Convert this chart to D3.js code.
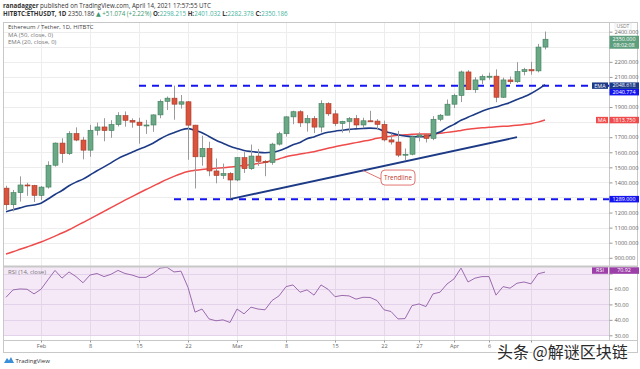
<!DOCTYPE html>
<html>
<head>
<meta charset="utf-8">
<script src="https://cdn.jsdelivr.net/npm/d3@7"></script>
<style>
  body { margin: 0; background: #fff; }
  svg { display: block; }
  text { font-family: "Open Sans", "DejaVu Sans", sans-serif; }
</style>
</head>
<body>
<div id="chart"></div>
<script>
// daily candles, first one is 2021-01-27
const startDate = "2021-01-27";
const opens  = [1362,1252,1332,1383,1380,1314,1369,1514,1661,1591,1724,1681,1614,1746,1768,1744,1784,1843,1812,1800,
                1779,1781,1848,1938,1959,1919,1935,1780,1570,1626,1476,1446,1459,1416,1564,1491,1575,1540,1533,1654,
                1723,1835,1869,1795,1824,1767,1923,1855,1791,1805,1823,1781,1809,1807,1785,1682,1668,1581,1587,1703,
                1715,1692,1819,1846,1919,1977,2133,2015,2080,2098,2105,1965,2080,2068,2135,2148,2140,2298];
const highs  = [1378,1350,1440,1397,1384,1375,1540,1665,1693,1740,1765,1702,1782,1797,1826,1813,1866,1871,1825,1829,
                1815,1851,1950,1970,2042,1980,1940,1782,1710,1670,1559,1525,1468,1568,1601,1651,1622,1548,1663,1736,
                1839,1876,1879,1847,1840,1945,1932,1880,1809,1834,1847,1829,1875,1820,1810,1725,1742,1625,1710,1733,
                1724,1840,1854,1950,1989,2142,2145,2098,2116,2128,2150,2095,2103,2198,2160,2200,2319,2401];
const lows   = [1217,1208,1273,1311,1270,1283,1359,1505,1530,1582,1673,1553,1570,1712,1673,1696,1771,1770,1763,1657,
                1722,1736,1826,1880,1816,1890,1550,1360,1511,1441,1394,1423,1293,1408,1463,1483,1510,1441,1517,1645,
                1704,1786,1768,1737,1727,1732,1841,1774,1730,1730,1760,1760,1802,1750,1672,1651,1568,1548,1580,1672,
                1665,1680,1806,1846,1894,1933,2017,1994,2052,2082,1932,1960,2053,2060,2111,2115,2130,2282];
const closes = [1252,1332,1383,1380,1314,1369,1514,1661,1591,1724,1681,1614,1746,1768,1744,1784,1843,1812,1800,1779,
                1781,1848,1938,1959,1919,1935,1780,1570,1626,1476,1446,1459,1416,1564,1491,1575,1540,1533,1654,1723,
                1835,1869,1795,1824,1767,1923,1855,1791,1805,1823,1781,1809,1807,1785,1682,1668,1581,1587,1703,1715,
                1692,1819,1846,1919,1977,2133,2015,2080,2103,2105,1965,2080,2068,2135,2148,2140,2298,2350];

// indicator values
const ema20 = [1206,1218,1231,1243,1250,1262,1290,1320,1346,1378,1402,1422,1449,1477,1503,1530,1558,1580,1600,1620,
               1638,1660,1688,1712,1730,1748,1757,1745,1730,1705,1680,1660,1640,1625,1612,1605,1600,1597,1600,1610,
               1628,1650,1665,1690,1702,1720,1733,1740,1746,1752,1755,1758,1760,1758,1740,1728,1716,1708,1704,1703,
               1704,1718,1734,1762,1785,1812,1832,1853,1872,1889,1900,1915,1930,1950,1968,1990,2017,2048.618];
const ma50  = [925,940,956,972,988,1005,1024,1044,1064,1086,1110,1134,1158,1183,1208,1233,1258,1282,1306,1330,
               1353,1375,1398,1420,1440,1458,1472,1480,1486,1490,1494,1497,1502,1508,1512,1518,1525,1533,1545,1556,
               1570,1580,1588,1596,1604,1615,1626,1637,1646,1655,1664,1673,1682,1693,1700,1707,1713,1716,1719,1721,
               1721,1722,1727,1732,1738,1745,1752,1758,1762,1766,1769,1772,1775,1779,1784,1790,1800,1813.75];
const rsi   = [54.6,59.4,60,59.8,56.8,59.8,66,72,67,71,68,64,69,70,68,69.5,72,70,69,67.5,
               67.5,70,73.5,74,71,71.5,61,45,47,40.6,39.4,40,38.3,47,43.9,48.2,47,46.5,52.5,55.5,
               61.5,62.6,57.9,59.4,56,62.6,59.8,55,55.8,55.5,53.4,54.6,54.5,52.5,46.5,45.4,40.6,40.8,49.2,50.3,
               48.6,56.8,57.9,63.2,66.5,73.5,64.5,67,68,68,56,61.5,60.5,63.7,64.5,63.3,69.8,70.92];

// drawn levels and trendline
const levelValues = [2040.774, 1289];
const levelStarts = ["2021-02-15", "2021-02-20"];
const trendDates  = ["2021-02-28", "2021-04-10"];
const trendValues = [1289, 1700];

// axis ticks
const priceTicks = d3.range(900, 2401, 100);
const rsiTicks   = [30, 40, 50, 60, 70];
const dateTicks  = ["2021-02-01","2021-02-08","2021-02-15","2021-02-22","2021-03-01","2021-03-08",
                    "2021-03-15","2021-03-22","2021-03-27","2021-04-01","2021-04-06","2021-04-12"];
const dateLabels = ["Feb","8","15","22","Mar","8","15","22","27","Apr","6",""];

const width = 640, height = 369;
const left = 3, axisX = 609, right = 637;
const mainTop = 22, mainBottom = 266, rsiBottom = 340, frameBottom = 352;

const parse = d3.utcParse("%Y-%m-%d");
const t0 = parse(startDate);
const dates = opens.map((d, i) => d3.utcDay.offset(t0, i));

const x = d3.scaleUtc()
  .domain([parse("2021-02-01"), parse("2021-04-01")])
  .range([41, 454]);
const y = d3.scaleLinear().domain([1000, 2400]).range([242.7, 31.7]);
const yR = d3.scaleLinear().domain([30, 70]).range([335.3, 273.5]);

const svg = d3.select("#chart").append("svg")
  .attr("width", width)
  .attr("height", height);

const defs = svg.append("defs");
defs.append("clipPath").attr("id", "clipMain")
  .append("rect").attr("x", left).attr("y", mainTop).attr("width", axisX - left).attr("height", mainBottom - mainTop);
defs.append("clipPath").attr("id", "clipRsi")
  .append("rect").attr("x", left).attr("y", mainBottom).attr("width", axisX - left).attr("height", rsiBottom - mainBottom);

// header
const head = svg.append("g").style("font-size", "6.2px");
const h1 = head.append("text").attr("x", 3).attr("y", 8).attr("fill", "#333");
h1.append("tspan").attr("font-weight", "bold").text("ranadagger");
h1.append("tspan").text(" published on TradingView.com, April 14, 2021 17:57:55 UTC");
const h2 = head.append("text").attr("x", 3).attr("y", 16).attr("fill", "#333");
h2.append("tspan").attr("font-weight", "bold").text("HITBTC:ETHUSDT, 1D");
h2.append("tspan").text(" 2350.186 ");
h2.append("tspan").attr("fill", "#3d9970").text("\u25B2 +51.074 (+2.22%) ");
[["O:", "2298.215"], ["H:", "2401.032"], ["L:", "2282.378"], ["C:", "2350.186"]].forEach(([k, v]) => {
  h2.append("tspan").attr("font-weight", "bold").text(k);
  h2.append("tspan").attr("fill", "#45b39d").text(v + " ");
});

// grid
const grid = svg.append("g").attr("stroke", "#ededed").attr("stroke-width", 1);
grid.selectAll(".vg").data(dateTicks).join("line")
  .attr("x1", d => Math.round(x(parse(d))) + 0.5).attr("x2", d => Math.round(x(parse(d))) + 0.5)
  .attr("y1", mainTop).attr("y2", rsiBottom);
grid.selectAll(".hg").data(priceTicks).join("line")
  .attr("x1", left).attr("x2", axisX)
  .attr("y1", d => Math.round(y(d)) + 0.5).attr("y2", d => Math.round(y(d)) + 0.5)
  .filter(d => y(d) < mainTop || y(d) > mainBottom).remove();

// rsi band
svg.append("rect")
  .attr("x", left).attr("width", axisX - left)
  .attr("y", mainBottom + 1).attr("height", yR(30) - mainBottom - 1)
  .attr("fill", "#9c27b0").attr("fill-opacity", 0.1);
svg.append("g").attr("stroke", "#e3d3ea")
  .selectAll("line").data(rsiTicks).join("line")
  .attr("x1", left).attr("x2", axisX)
  .attr("y1", d => Math.round(yR(d)) + 0.5).attr("y2", d => Math.round(yR(d)) + 0.5);

// main panel content
const main = svg.append("g").attr("clip-path", "url(#clipMain)");

// dashed levels
main.selectAll(".lvl").data(levelValues).join("line")
  .attr("x1", (d, i) => x(parse(levelStarts[i]))).attr("x2", axisX)
  .attr("y1", d => y(d)).attr("y2", d => y(d))
  .attr("stroke", "#1414f0").attr("stroke-width", 2).attr("stroke-dasharray", "7,6");

// moving averages
const line = d3.line().x((d, i) => x(dates[i])).y(d => y(d)).curve(d3.curveMonotoneX);
main.append("path").attr("d", line(ma50)).attr("fill", "none").attr("stroke", "#ef4b4b").attr("stroke-width", 1.5);
main.append("path").attr("d", line(ema20)).attr("fill", "none").attr("stroke", "#1c3a85").attr("stroke-width", 1.6);

// trendline
main.append("line")
  .attr("x1", x(parse(trendDates[0]))).attr("y1", y(trendValues[0]))
  .attr("x2", x(parse(trendDates[1]))).attr("y2", y(trendValues[1]))
  .attr("stroke", "#1c3a85").attr("stroke-width", 1.8);

// candles
const candles = main.selectAll(".c").data(opens).join("g");
candles.append("line")
  .attr("x1", (d, i) => Math.round(x(dates[i])) + 0.5).attr("x2", (d, i) => Math.round(x(dates[i])) + 0.5)
  .attr("y1", (d, i) => y(highs[i])).attr("y2", (d, i) => y(lows[i]))
  .attr("stroke", "#9a9a9a").attr("stroke-width", 1);
candles.append("rect")
  .attr("x", (d, i) => Math.round(x(dates[i])) - 2)
  .attr("width", 5)
  .attr("y", (d, i) => y(Math.max(opens[i], closes[i])))
  .attr("height", (d, i) => Math.max(1, Math.abs(y(opens[i]) - y(closes[i]))))
  .attr("fill", (d, i) => closes[i] >= opens[i] ? "#6aa886" : "#d9533d")
  .attr("stroke", (d, i) => closes[i] >= opens[i] ? "#3f7d5c" : "#a63a29")
  .attr("stroke-width", 0.6);

// trendline callout
const tx = x(parse("2021-03-19")), ty = y(trendValues[0] + (trendValues[1] - trendValues[0]) * 19 / 41);
const bx = x(parse("2021-03-21")) + 4, by = y(1482);
main.append("line").attr("x1", tx).attr("y1", ty).attr("x2", bx).attr("y2", by + 9)
  .attr("stroke", "#d9534f").attr("stroke-width", 0.8);
main.append("rect").attr("x", bx).attr("y", by).attr("width", 34).attr("height", 15).attr("rx", 4)
  .attr("fill", "#fff").attr("stroke", "#d9534f").attr("stroke-width", 0.8);
main.append("text").attr("x", bx + 17).attr("y", by + 9.8).attr("text-anchor", "middle")
  .style("font-size", "6.3px").attr("fill", "#c0392b").text("Trendline");

// rsi line
const rsiLine = d3.line().x((d, i) => x(dates[i])).y(d => yR(d));
svg.append("g").attr("clip-path", "url(#clipRsi)")
  .append("path").attr("d", rsiLine(rsi)).attr("fill", "none").attr("stroke", "#9b6aae").attr("stroke-width", 1);

// legends
const leg = svg.append("g").style("font-size", "6px");
leg.append("text").attr("x", 8).attr("y", 29).attr("fill", "#444").text("Ethereum / Tether, 1D, HITBTC");
leg.append("text").attr("x", 8).attr("y", 36.5).attr("fill", "#777").text("MA (50, close, 0)");
leg.append("text").attr("x", 8).attr("y", 44).attr("fill", "#777").text("EMA (20, close, 0)");
leg.append("text").attr("x", 8).attr("y", 274).attr("fill", "#777").text("RSI (14, close)");

// frame and separators
svg.append("rect").attr("x", left + 0.5).attr("y", mainTop + 0.5)
  .attr("width", right - left).attr("height", frameBottom - mainTop)
  .attr("fill", "none").attr("stroke", "#c8c8c8");
svg.append("line").attr("x1", left).attr("x2", right).attr("y1", mainBottom + 0.5).attr("y2", mainBottom + 0.5)
  .attr("stroke", "#c8c8c8").attr("stroke-width", 2);
svg.append("line").attr("x1", left).attr("x2", right).attr("y1", rsiBottom + 0.5).attr("y2", rsiBottom + 0.5)
  .attr("stroke", "#c8c8c8");
svg.append("line").attr("x1", axisX + 0.5).attr("x2", axisX + 0.5).attr("y1", mainTop).attr("y2", rsiBottom)
  .attr("stroke", "#c8c8c8");

// right side badges, positions collected so covered tick labels can be dropped
const fmt3 = d3.format(".3f");
const badgeBoxes = [];
const badgeLayer = svg.append("g");
function badge(cy, lines, fill) {
  const h = 6.5 * lines.length;
  badgeBoxes.push([cy - h / 2, cy + h / 2]);
  badgeLayer.append("rect").attr("x", axisX + 0.5).attr("y", cy - h / 2).attr("width", 29.5).attr("height", h).attr("fill", fill);
  lines.forEach((t, k) => badgeLayer.append("text")
    .attr("x", axisX + 15).attr("y", cy - h / 2 + 4.9 + 6.5 * k).attr("text-anchor", "middle")
    .style("font-size", "5.4px").attr("fill", "#fff").text(t));
}
function tag(cy, label, fill) {
  const w = label.length * 4 + 4;
  badgeLayer.append("rect").attr("x", axisX - w - 1).attr("y", cy - 3.2).attr("width", w).attr("height", 6.4).attr("fill", fill);
  badgeLayer.append("text").attr("x", axisX - 1 - w / 2).attr("y", cy + 1.9).attr("text-anchor", "middle")
    .style("font-size", "5.4px").attr("fill", "#fff").text(label);
}
const lastClose = closes[closes.length - 1];
badge(y(lastClose) + 3, [fmt3(lastClose), "08:02:08"], "#5d9e7c");
const emaY = y(ema20[ema20.length - 1]) + 1;
tag(emaY, "EMA", "#1c3a85");
badge(emaY, [fmt3(ema20[ema20.length - 1])], "#1c3a85");
badge(Math.max(y(levelValues[0]), emaY + 6.5), [fmt3(levelValues[0])], "#1414f0");
const maY = y(ma50[ma50.length - 1]);
tag(maY, "MA", "#ef4b4b");
badge(maY, [fmt3(ma50[ma50.length - 1])], "#ef4b4b");
badge(y(levelValues[1]), [fmt3(levelValues[1])], "#1414f0");
const rsiY = yR(rsi[rsi.length - 1]) - 1.5;
tag(rsiY, "RSI", "#9c3fa8");
badge(rsiY, [d3.format(".2f")(rsi[rsi.length - 1])], "#9c3fa8");

const covered = py => badgeBoxes.some(([a, b]) => py + 3 > a && py - 3 < b);

// price axis
const pAxis = svg.insert("g", () => badgeLayer.node()).attr("transform", `translate(${axisX + 0.5},0)`)
  .call(d3.axisRight(y).tickValues(priceTicks).tickSize(3).tickPadding(2).tickFormat(fmt3));
pAxis.select(".domain").remove();
pAxis.selectAll("line").attr("stroke", "#999");
pAxis.selectAll("text").attr("fill", "#666").style("font-size", "5.6px").style("font-family", "'Open Sans', sans-serif");
pAxis.selectAll(".tick").filter(d => covered(y(d))).select("text").remove();

const rAxis = svg.insert("g", () => badgeLayer.node()).attr("transform", `translate(${axisX + 0.5},0)`)
  .call(d3.axisRight(yR).tickValues(rsiTicks).tickSize(3).tickPadding(2).tickFormat(d3.format(".2f")));
rAxis.select(".domain").remove();
rAxis.selectAll("line").attr("stroke", "#999");
rAxis.selectAll("text").attr("fill", "#666").style("font-size", "5.6px").style("font-family", "'Open Sans', sans-serif");
rAxis.selectAll(".tick").filter(d => covered(yR(d))).select("text").remove();

// date axis
const dAxis = svg.append("g").attr("transform", `translate(0,${rsiBottom + 0.5})`)
  .call(d3.axisBottom(x).tickValues(dateTicks.map(parse)).tickSize(2).tickPadding(2)
    .tickFormat((d, i) => dateLabels[i]));
dAxis.select(".domain").remove();
dAxis.selectAll("line").attr("stroke", "#999");
dAxis.selectAll("text").attr("fill", "#666").style("font-size", "5.6px").style("font-family", "'Open Sans', sans-serif");

// USDT label
svg.append("rect").attr("x", 615).attr("y", 23).attr("width", 16).attr("height", 7)
  .attr("fill", "#fff").attr("stroke", "#ddd").attr("stroke-width", 0.6);
svg.append("text").attr("x", 623).attr("y", 28.3).attr("text-anchor", "middle")
  .style("font-size", "5px").attr("fill", "#777").text("USDT");

// TradingView footer
const logo = svg.append("g").attr("transform", "translate(4,356)");
logo.append("path").attr("d", "M0,7 L3,2 L5,4.5 L7,1 L10,7 Z").attr("fill", "#3b8fd9");
logo.append("text").attr("x", 11.5).attr("y", 6.5).style("font-size", "6px").attr("fill", "#333").text("TradingView");

// watermark
svg.append("text").attr("x", 497).attr("y", 358)
  .style("font-family", "'Noto Sans CJK SC', sans-serif").style("font-size", "16px")
  .attr("fill", "#2a2a2a").attr("stroke", "#fff").attr("stroke-width", 2.2)
  .attr("paint-order", "stroke").text("头条 @解谜区块链");
</script>
</body>
</html>
